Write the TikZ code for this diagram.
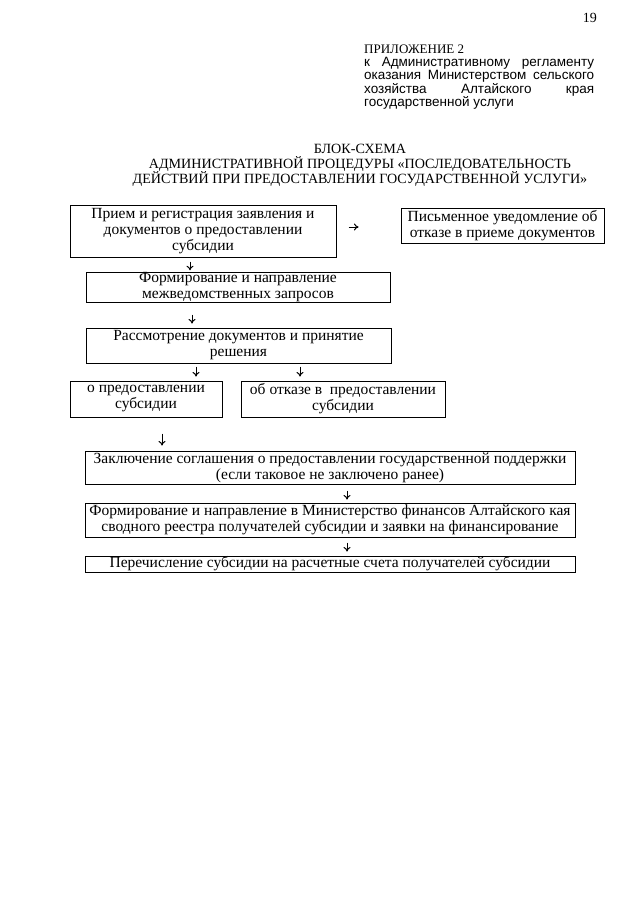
\documentclass[tikz,border=0pt]{standalone}
\usepackage{fontspec}
\setmainfont{Liberation Serif}
\setsansfont{Liberation Sans}
\usetikzlibrary{positioning,calc,arrows.meta}
\tikzset{font=\fontsize{15.5}{16}\selectfont}

\begin{document}
\begin{tikzpicture}[x=1pt,y=-1pt]
	\useasboundingbox (0,0) rectangle (640,905);
	\tikzstyle{blk}=[draw, line width=1pt, inner sep=0pt, align=center]
	\tikzstyle{arr}=[-{To[length=4.5pt,width=7pt]}, line width=1pt]

	% header
	\node[anchor=base east, inner sep=0, font=\fontsize{14}{14}\selectfont] (page) at (597,22) {19};
	\node[anchor=base west, inner sep=0, font=\fontsize{13}{13}\selectfont] (app) at (364,53) {ПРИЛОЖЕНИЕ 2};
	\node[anchor=north west, inner sep=0, text width=230pt, align=justify,
		font=\sffamily\fontsize{13.5}{12.8}\selectfont] (reg) at (364,57)
		{к Административному регламенту\linebreak оказания Министерством сельского\linebreak хозяйства Алтайского края\linebreak государственной услуги};

	% title
	\node[align=center, inner sep=0, font=\fontsize{14.1}{15}\selectfont] (title) at (360,165)
		{БЛОК-СХЕМА\\АДМИНИСТРАТИВНОЙ ПРОЦЕДУРЫ «ПОСЛЕДОВАТЕЛЬНОСТЬ\\ДЕЙСТВИЙ ПРИ ПРЕДОСТАВЛЕНИИ ГОСУДАРСТВЕННОЙ УСЛУГИ»};

	% boxes
	\node[blk, minimum width=266pt, minimum height=52pt] (b1) at (203,231)
		{Прием и регистрация заявления и\\документов о предоставлении\\субсидии};
	\node[blk, minimum width=203pt, minimum height=35pt] (note) at (502.5,225.5)
		{Письменное уведомление об\\отказе в приеме документов};
	\node[blk, minimum width=304pt, minimum height=27pt] (b2) at (238,287.5)
		{Формирование и направление\\межведомственных запросов};
	\node[blk, minimum width=305pt, minimum height=35pt] (b3) at (238.5,345.5)
		{Рассмотрение документов и принятие\\решения};
	\node[blk, minimum width=152pt, minimum height=36pt] (yes) at (146,399)
		{о предоставлении\\субсидии};
	\node[blk, minimum width=204pt, minimum height=36pt] (no) at (343,399)
		{об отказе в~ предоставлении\\субсидии};
	\node[blk, minimum width=490pt, minimum height=33pt] (b5) at (330,467.5)
		{Заключение соглашения о предоставлении государственной поддержки\\(если таковое не заключено ранее)};
	\node[blk, minimum width=490pt, minimum height=34pt] (b6) at (330,520)
		{Формирование и направление в Министерство финансов Алтайского кая\\сводного реестра получателей субсидии и заявки на финансирование};
	\node[blk, minimum width=490pt, minimum height=16pt] (b7) at (330,564)
		{Перечисление субсидии на расчетные счета получателей субсидии};

	% arrows
	\draw[arr, shorten <=12pt, shorten >=42pt] (b1.east |- 0,227) -- (note.west |- 0,227);
	\draw[arr, shorten <=4pt, shorten >=2pt] (b1.south -| 190,0) -- (b2.north -| 190,0);
	\draw[arr, shorten <=12pt, shorten >=4pt] (b2.south -| 192,0) -- (b3.north -| 192,0);
	\draw[arr, shorten <=3pt, shorten >=4pt] (b3.south -| 196,0) -- (yes.north -| 196,0);
	\draw[arr, shorten <=3pt, shorten >=4pt] (b3.south -| 300,0) -- (no.north -| 300,0);
	\draw[arr, shorten <=16pt, shorten >=5pt] (yes.south -| 162,0) -- (b5.north -| 162,0);
	\draw[arr, shorten <=6pt, shorten >=3pt] (b5.south -| 347,0) -- (b6.north -| 347,0);
	\draw[arr, shorten <=5pt, shorten >=4pt] (b6.south -| 347,0) -- (b7.north -| 347,0);
\end{tikzpicture}
\end{document}
